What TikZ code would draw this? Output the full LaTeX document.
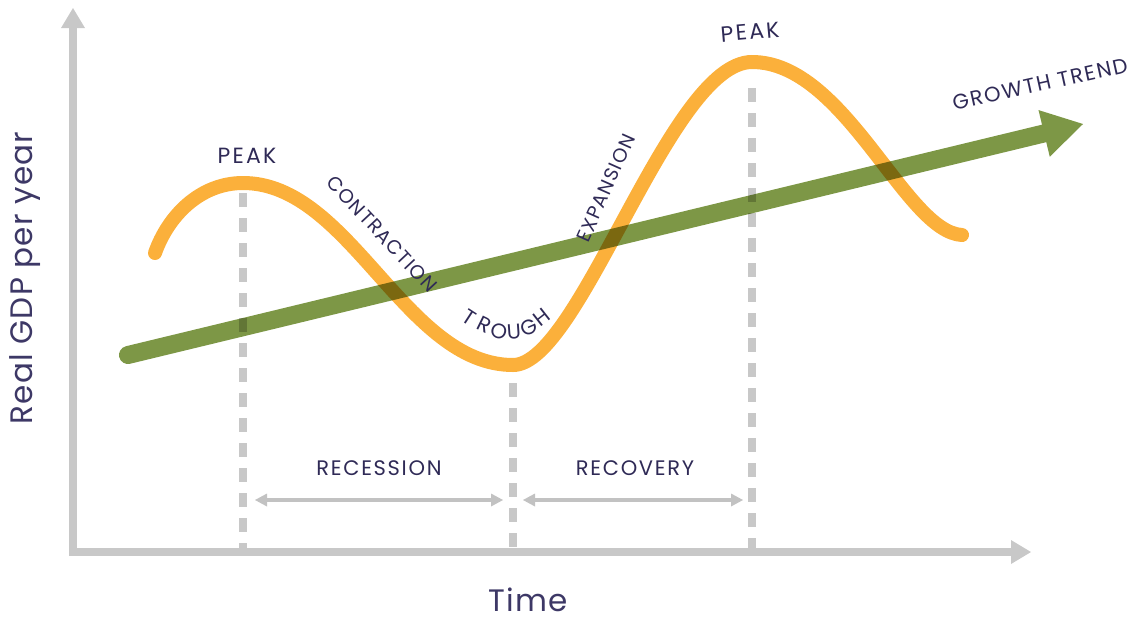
\documentclass[tikz,border=0pt]{standalone}
\usepackage{fontspec}
\setmainfont{Poppins}
\usetikzlibrary{arrows.meta}
\definecolor{axisgray}{HTML}{C8C8C8}
\definecolor{spangray}{HTML}{C2C2C2}
\definecolor{waveorange}{HTML}{FBB03B}
\definecolor{trendgreen}{HTML}{7D9746}
\definecolor{labelink}{HTML}{2F2A56}
\definecolor{axisink}{HTML}{3D3866}
\newcommand{\phasefont}{\fontsize{21}{21}\selectfont\addfontfeature{LetterSpace=8}}
\newcommand{\peakfont}{\fontsize{22}{22}\selectfont\addfontfeature{LetterSpace=10}}
\newcommand{\slopefont}{\fontsize{19.5}{19.5}\selectfont\addfontfeature{LetterSpace=6}}
\newcommand{\axisfont}{\fontsize{31}{31}\selectfont\addfontfeature{LetterSpace=4}}

\begin{document}
\begin{tikzpicture}[x=1pt,y=-1pt]
    \tikzstyle{axis}=[line width=8pt,axisgray,line join=miter,{Triangle[length=20pt,width=24pt,line width=0pt]}-{Triangle[length=20pt,width=24pt,line width=0pt]}]
    \tikzstyle{guide}=[line width=8pt,axisgray,dash pattern=on 14pt off 11pt]
    \tikzstyle{span}=[line width=4pt,spangray,{Triangle[length=12pt,width=13pt,line width=0pt]}-{Triangle[length=12pt,width=13pt,line width=0pt]}]
    \tikzstyle{wave}=[line width=14pt,waveorange,line cap=round]
    \tikzstyle{trend}=[line width=18pt,trendgreen,line cap=round,-{Triangle[length=40pt,width=48pt,line width=0pt]}]
    \tikzstyle{phase}=[labelink,font=\phasefont,inner sep=0pt]
    \useasboundingbox (0,0) rectangle (1135,619);

    % axes
    \coordinate (ytip) at (73,8);
    \coordinate (xtip) at (1031,552);
    \draw[axis] (ytip) |- (xtip);
    \node (ylabel) at (25,278) [rotate=90,axisink,font=\axisfont,inner sep=0pt] {Real GDP per year};
    \node (xlabel) at (528,600) [axisink,font=\axisfont,inner sep=0pt] {Time};

    % turning points of the cycle
    \coordinate (start)  at (155,253);
    \coordinate (peakA)  at (243,183);
    \coordinate (trough) at (513,365);
    \coordinate (peakB)  at (752,62);
    \coordinate (finish) at (962,235);

    \draw[guide] ([yshift=-10pt]peakA) -- (peakA |- xtip);
    \draw[guide] ([yshift=-18pt]trough) -- (trough |- xtip);
    \draw[guide] ([yshift=-26pt]peakB) -- (peakB |- xtip);

    % recession and recovery spans
    \node (recession) at (379,468) [phase] {RECESSION};
    \node (recovery)  at (635,468) [phase] {RECOVERY};
    \coordinate (recL)   at (255,500);
    \coordinate (recR)   at (503,500);
    \coordinate (recovL) at (523,500);
    \coordinate (recovR) at (743,500);
    \draw[span] (recL) -- (recR);
    \draw[span] (recovL) -- (recovR);

    % business cycle
    \draw[wave] (start) .. controls (168,216) and (200,183) .. (peakA)
        .. controls (350,183) and (405,365) .. (trough)
        .. controls (580,365) and (670,62) .. (peakB)
        .. controls (845,62) and (905,232) .. (finish);

    % growth trend, multiplied over the cycle as one group
    \coordinate (trendStart) at (128,355);
    \coordinate (trendTip)   at (1083,124);
    \begin{scope}[blend mode=multiply]
    \begin{scope}[transparency group]
        \draw[trend] (trendStart) -- (trendTip);
    \end{scope}
    \end{scope}

    % phase labels
    \node (peakAlabel) at (247,156) [phase,font=\peakfont] {PEAK};
    \node (peakBlabel) at (750,32)  [phase,font=\peakfont,rotate=5] {PEAK};
    \node (contraction) at (382,234) [phase,font=\slopefont,rotate=-47] {CONTRACTION};
    \node (expansion)   at (606,188) [phase,font=\slopefont,rotate=66] {EXPANSION};
    \node (growth)      at (1040,84) [phase,rotate=12.5] {GROWTH TREND};
    \foreach \ch/\x/\y/\r in {T/469/317/-33, R/484/325/-26, O/499/331/-14, U/514/332/4, G/529/327/24, H/542/317/38}
        \node (trough\ch) at (\x,\y) [phase,rotate=\r] {\ch};
\end{tikzpicture}
\end{document}
